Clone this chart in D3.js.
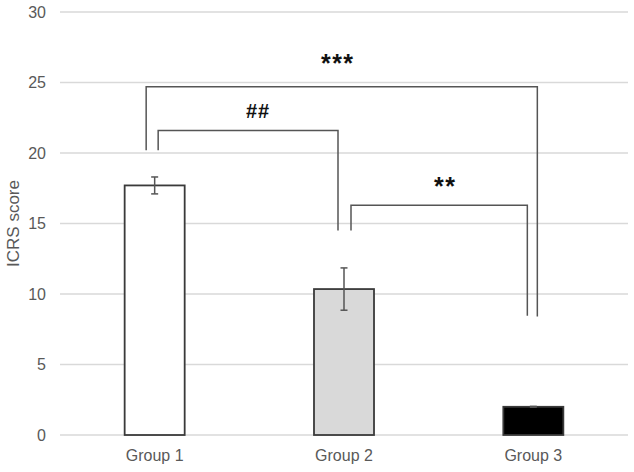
<!DOCTYPE html>
<html>
<head>
<meta charset="utf-8">
<script src="https://cdn.jsdelivr.net/npm/d3@7"></script>
<style>
  html, body { margin: 0; padding: 0; background: #fff; }
  svg { display: block; }
</style>
</head>
<body>
<svg id="chart" width="634" height="472"></svg>
<script>
// ---- data ----
const categories = ["Group 1", "Group 2", "Group 3"];
const means = [17.7, 10.35, 2.0];
const errors = [0.6, 1.5, 0.03];
const fills = ["#ffffff", "#d9d9d9", "#000000"];
const yTicks = [0, 5, 10, 15, 20, 25, 30];
const yTitle = "ICRS score";
// significance brackets: from group, to group, left-leg bottom, right-leg bottom, bracket top, label, label level
const bracketFrom = [0, 0, 1];
const bracketTo = [2, 1, 2];
const bracketLeftBottom = [20.2, 20.2, 14.5];
const bracketRightBottom = [8.4, 14.5, 8.45];
const bracketTop = [24.7, 21.6, 16.3];
const bracketLabels = ["***", "##", "**"];
const bracketLabelLevel = [26.8, 23.0, 18.1];

// ---- layout ----
const svg = d3.select("#chart");
const mLeft = 60, mRight = 628, mTop = 12, mBottom = 435;

const x = d3.scaleBand().domain(categories).range([mLeft, mRight])
  .paddingInner(0.683).paddingOuter(0.3415);
const y = d3.scaleLinear().domain([0, 30]).range([mBottom, mTop]);

// gridlines
svg.append("g").selectAll("line").data(yTicks).join("line")
  .attr("x1", mLeft).attr("x2", mRight)
  .attr("y1", d => y(d)).attr("y2", d => y(d))
  .attr("stroke", "#d9d9d9").attr("stroke-width", 1.3);

// y axis labels
const yAxis = d3.axisLeft(y).tickValues(yTicks).tickSize(0).tickPadding(0);
const yg = svg.append("g").attr("transform", `translate(46,0)`).call(yAxis);
yg.select(".domain").remove();
yg.selectAll("text").attr("font-family", "Liberation Sans, Arial, sans-serif")
  .attr("font-size", 16).attr("fill", "#595959");

// x axis labels
const xAxis = d3.axisBottom(x).tickSize(0).tickPadding(0);
const xg = svg.append("g").attr("transform", `translate(0,${mBottom + 15})`).call(xAxis);
xg.select(".domain").remove();
xg.selectAll("text").attr("font-family", "Liberation Sans, Arial, sans-serif")
  .attr("font-size", 16).attr("fill", "#595959");

// y title
svg.append("text")
  .attr("transform", `translate(19,${y(15)}) rotate(-90)`)
  .attr("text-anchor", "middle")
  .attr("font-family", "Liberation Sans, Arial, sans-serif")
  .attr("font-size", 17).attr("fill", "#595959")
  .text(yTitle);

// bars
svg.append("g").selectAll("rect").data(categories).join("rect")
  .attr("x", d => x(d))
  .attr("width", x.bandwidth())
  .attr("y", (d, i) => y(means[i]))
  .attr("height", (d, i) => y(0) - y(means[i]))
  .attr("fill", (d, i) => fills[i])
  .attr("stroke", "#3a3a3a").attr("stroke-width", 1.8);

// error bars
const eg = svg.append("g").attr("stroke", "#555").attr("stroke-width", 1.5);
categories.forEach((c, i) => {
  const cx = x(c) + x.bandwidth() / 2;
  const y1 = y(means[i] + errors[i]), y2 = y(means[i] - errors[i]);
  eg.append("line").attr("x1", cx).attr("x2", cx).attr("y1", y1).attr("y2", y2);
  eg.append("line").attr("x1", cx - 3.5).attr("x2", cx + 3.5).attr("y1", y1).attr("y2", y1);
  eg.append("line").attr("x1", cx - 3.5).attr("x2", cx + 3.5).attr("y1", y2).attr("y2", y2);
});

// brackets
const leftOffsets = [-8.5, 3.5, 7];
const rightOffsets = [4, -6, -6];
const labelShift = [-4, 10, 6];
const bg = svg.append("g");
bracketLabels.forEach((lab, i) => {
  const c1 = x(categories[bracketFrom[i]]) + x.bandwidth() / 2 + leftOffsets[i];
  const c2 = x(categories[bracketTo[i]]) + x.bandwidth() / 2 + rightOffsets[i];
  const path = d3.path();
  path.moveTo(c1, y(bracketLeftBottom[i]));
  path.lineTo(c1, y(bracketTop[i]));
  path.lineTo(c2, y(bracketTop[i]));
  path.lineTo(c2, y(bracketRightBottom[i]));
  bg.append("path").attr("d", path.toString())
    .attr("fill", "none").attr("stroke", "#555").attr("stroke-width", 1.5);
  const isHash = lab.startsWith("#");
  bg.append("text")
    .attr("x", (c1 + c2) / 2 + labelShift[i])
    .attr("y", y(bracketLabelLevel[i]))
    .attr("dy", isHash ? "0.35em" : "0.6em")
    .attr("text-anchor", "middle")
    .attr("font-family", "Liberation Sans, Arial, sans-serif")
    .attr("font-weight", "bold")
    .attr("font-size", isHash ? 20 : 25)
    .attr("letter-spacing", isHash ? 1 : 1.5)
    .attr("fill", "#111")
    .text(lab);
});
</script>
</body>
</html>
